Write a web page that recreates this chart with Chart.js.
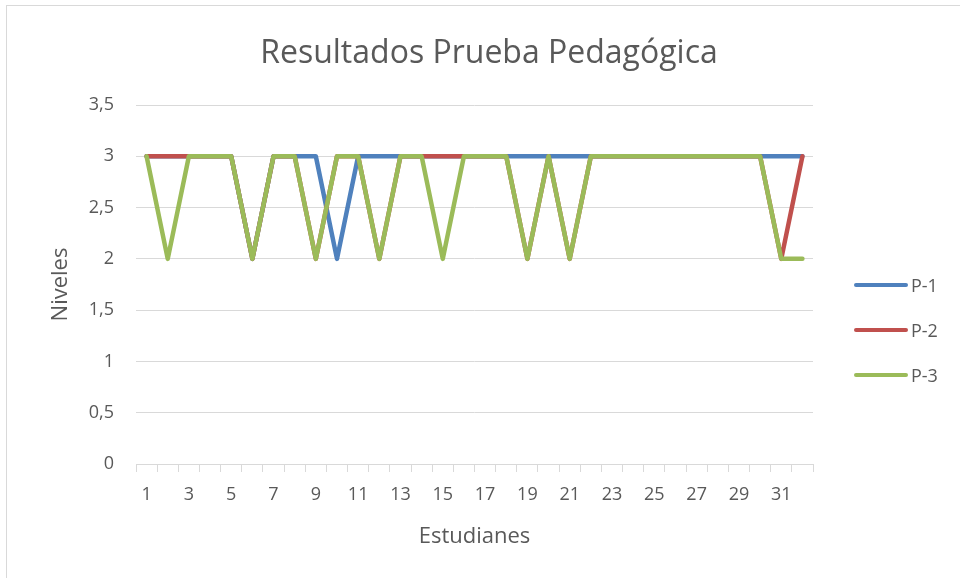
<!DOCTYPE html>
<html>
<head>
<meta charset="utf-8">
<script src="https://cdn.jsdelivr.net/npm/chart.js@4"></script>
<style>
  html, body { margin: 0; padding: 0; background: #fff; }
  #wrap { position: relative; width: 960px; height: 578px; }
  #frame { position: absolute; left: 6px; top: 5px; width: 960px; height: 580px; border: 1px solid #d9d9d9; box-sizing: border-box; }
  canvas { position: absolute; left: 0; top: 0; }
  #title { position: absolute; left: 189px; width: 600px; top: 29px; height: 44px; line-height: 44px; text-align: center;
           font-family: "Open Sans", sans-serif; font-size: 32px; color: #595959; }
  #legend { position: absolute; left: 854px; top: 262px; font-family: "Open Sans", sans-serif; font-size: 18px; color: #595959; }
  #legend div { height: 45px; display: flex; align-items: center; }
  #legend span.sw { display: inline-block; width: 54px; height: 4px; border-radius: 2px; margin-right: 3px; }
</style>
</head>
<body>
<div id="wrap">
  <div id="frame"></div>
  <canvas id="chart" width="960" height="578"></canvas>
  <div id="title">Resultados Prueba Pedagógica</div>
  <div id="legend"></div>
</div>
<script>
// ================= DATA =================
const estudiantes = [];
for (let i = 1; i <= 32; i++) estudiantes.push(String(i));

const p1 = [3, 3, 3, 3, 3, 2, 3, 3, 3, 2, 3, 3, 3, 3, 3, 3, 3, 3, 3, 3, 3, 3, 3, 3, 3, 3, 3, 3, 3, 3, 3, 3];
const p2 = [3, 3, 3, 3, 3, 2, 3, 3, 2, 3, 3, 2, 3, 3, 3, 3, 3, 3, 2, 3, 2, 3, 3, 3, 3, 3, 3, 3, 3, 3, 2, 3];
const p3 = [3, 2, 3, 3, 3, 2, 3, 3, 2, 3, 3, 2, 3, 3, 2, 3, 3, 3, 2, 3, 2, 3, 3, 3, 3, 3, 3, 3, 3, 3, 2, 2];

const seriesNames = ["P-1", "P-2", "P-3"];
const colors = ["#4f81bd", "#c0504d", "#9bbb59"];

const grey = "#595959";
const font = "'Open Sans', sans-serif";

// ================= CHART =================
const chart = new Chart(document.getElementById("chart"), {
  type: "line",
  data: {
    labels: estudiantes,
    datasets: [p1, p2, p3].map((d, i) => ({
      label: seriesNames[i],
      data: d,
      order: 2 - i, // P-3 on top, like the original
      borderColor: colors[i],
      backgroundColor: colors[i],
      borderWidth: 4.5,
      pointRadius: 0,
      tension: 0,
      borderCapStyle: "round",
      borderJoinStyle: "round"
    }))
  },
  options: {
    responsive: false,
    animation: false,
    layout: { padding: { left: 44, right: 147, top: 105, bottom: 24 } },
    plugins: {
      legend: { display: false },
      tooltip: { enabled: false }
    },
    scales: {
      x: {
        offset: true,
        grid: { drawOnChartArea: false, drawTicks: true, tickLength: 8, color: "#d9d9d9", offset: true },
        border: { display: true, color: "#d9d9d9" },
        ticks: {
          autoSkip: false,
          maxRotation: 0,
          color: grey,
          padding: 12,
          font: { family: font, size: 18 },
          callback: (v, i) => (i % 2 === 0 ? estudiantes[i] : "")
        },
        title: { display: true, text: "Estudianes", color: grey, font: { family: font, size: 22 }, padding: { top: 4, bottom: 4 } },
        afterFit: (s) => { s.height = 90; }
      },
      y: {
        min: 0,
        max: 3.5,
        grid: { color: "#d9d9d9", drawTicks: false },
        border: { display: false },
        ticks: {
          stepSize: 0.5,
          color: grey,
          padding: 22,
          font: { family: font, size: 18 },
          callback: (v) => String(v).replace(".", ",")
        },
        title: { display: true, text: "Niveles", color: grey, font: { family: font, size: 22 }, padding: { top: 4, bottom: 4 } },
        afterFit: (s) => { s.width = 92; }
      }
    }
  }
});

// ================= LEGEND =================
const legendEl = document.getElementById("legend");
seriesNames.forEach((n, i) => {
  const row = document.createElement("div");
  row.innerHTML = '<span class="sw" style="background:' + colors[i] + '"></span>' + n;
  legendEl.appendChild(row);
});
</script>
</body>
</html>
